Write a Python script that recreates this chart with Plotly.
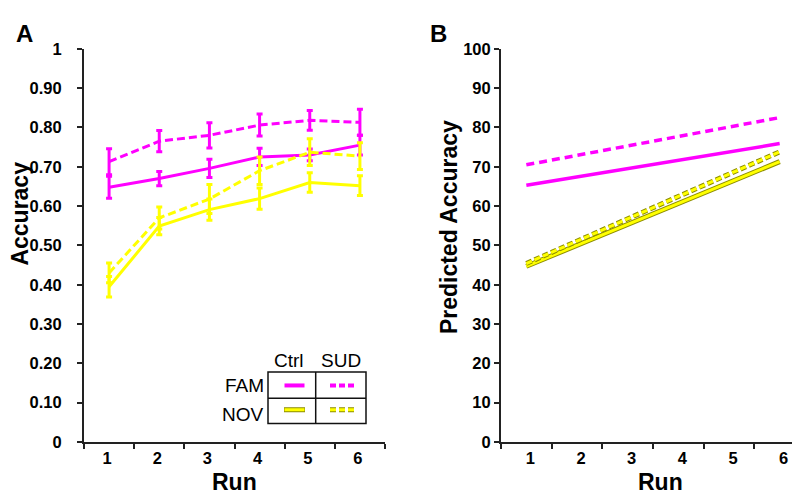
import plotly.graph_objects as go

# ---------------- data ----------------
runs = ["1", "2", "3", "4", "5", "6"]

fam_ctrl = [0.648, 0.670, 0.696, 0.725, 0.730, 0.755]
fam_ctrl_err = [0.028, 0.018, 0.023, 0.022, 0.015, 0.025]
fam_sud = [0.713, 0.765, 0.780, 0.806, 0.818, 0.813]
fam_sud_err = [0.033, 0.027, 0.032, 0.028, 0.025, 0.033]
nov_ctrl = [0.395, 0.549, 0.591, 0.619, 0.660, 0.652]
nov_ctrl_err = [0.026, 0.022, 0.027, 0.027, 0.025, 0.025]
nov_sud = [0.430, 0.570, 0.618, 0.690, 0.737, 0.727]
nov_sud_err = [0.025, 0.028, 0.037, 0.035, 0.034, 0.034]

pred_runs = ["1", "6"]
pred_fam_ctrl = [65.3, 75.9]
pred_fam_sud = [70.5, 82.5]
pred_nov_ctrl = [44.7, 71.3]
pred_nov_sud = [45.4, 73.8]

acc_ticks = [0, 0.1, 0.2, 0.3, 0.4, 0.5, 0.6, 0.7, 0.8, 0.9, 1.0]
acc_ticktext = ["0", "0.10", "0.20", "0.30", "0.40", "0.50", "0.60", "0.70", "0.80", "0.90", "1"]

MAG = "#ff00ff"
YEL = "#ffff00"
OLIVE = "#8c8c00"
FONT = "Arial, Liberation Sans, sans-serif"
W, H = 800, 497


def px(x):
    return x / W


def py(y):
    return 1 - y / H


fig = go.Figure()


def acc_trace(y, err, color, dash):
    fig.add_trace(go.Scatter(
        x=runs, y=y, mode="lines", xaxis="x", yaxis="y",
        line=dict(color=color, width=3, dash=dash),
        error_y=dict(type="data", array=err, visible=True, color=color,
                     thickness=3, width=3),
        showlegend=False, hoverinfo="skip"))


acc_trace(fam_ctrl, fam_ctrl_err, MAG, "solid")
acc_trace(fam_sud, fam_sud_err, MAG, "8px,4px")
acc_trace(nov_ctrl, nov_ctrl_err, YEL, "solid")
acc_trace(nov_sud, nov_sud_err, YEL, "8px,4px")

# panel B
fig.add_trace(go.Scatter(x=pred_runs, y=pred_fam_ctrl, mode="lines", xaxis="x2", yaxis="y2",
                         line=dict(color=MAG, width=3.5), showlegend=False, hoverinfo="skip"))
fig.add_trace(go.Scatter(x=pred_runs, y=pred_fam_sud, mode="lines", xaxis="x2", yaxis="y2",
                         line=dict(color=MAG, width=3.5, dash="8px,5px"), showlegend=False, hoverinfo="skip"))
for yv, dash in [(pred_nov_ctrl, "solid"), (pred_nov_sud, "6px,3px")]:
    fig.add_trace(go.Scatter(x=pred_runs, y=yv, mode="lines", xaxis="x2", yaxis="y2",
                             line=dict(color=OLIVE, width=5, dash=dash), showlegend=False, hoverinfo="skip"))
    fig.add_trace(go.Scatter(x=pred_runs, y=yv, mode="lines", xaxis="x2", yaxis="y2",
                             line=dict(color=YEL, width=3, dash=dash), showlegend=False, hoverinfo="skip"))

axis_common = dict(showline=True, linecolor="#222", linewidth=2, ticks="outside",
                   ticklen=5, tickwidth=2, tickcolor="#222", showgrid=False, zeroline=False,
                   tickfont=dict(family=FONT, size=16.5, color="black", weight="bold"))

fig.update_layout(
    width=W, height=H, margin=dict(l=0, r=0, t=0, b=0),
    paper_bgcolor="white", plot_bgcolor="white",
    xaxis=dict(domain=[px(76), px(377)], anchor="y", type="category",
               categoryorder="array", categoryarray=runs, tickson="boundaries",
               range=[-0.5, 5.5], ticklabelshift=-2, **axis_common),
    yaxis=dict(domain=[py(441), py(33)], anchor="x", range=[0, 1],
               tickvals=acc_ticks, ticktext=acc_ticktext, ticklabelstandoff=12, **axis_common),
    xaxis2=dict(domain=[px(493), px(797)], anchor="y2", type="category",
                categoryorder="array", categoryarray=runs, tickson="boundaries",
                range=[-0.5, 5.5], ticklabelshift=4, **axis_common),
    yaxis2=dict(domain=[py(441), py(33)], anchor="x2", range=[0, 100],
                tickvals=list(range(0, 101, 10)), **axis_common),
)

ann = []


def text(x, y, t, size, bold=True, angle=0, xanchor="center"):
    ann.append(dict(x=px(x), y=py(y), xref="paper", yref="paper", text=t, showarrow=False,
                    textangle=angle, xanchor=xanchor, yanchor="middle",
                    font=dict(family=FONT, size=size, color="black",
                              weight="bold" if bold else "normal")))


text(16.5, 17, "A", 24)
text(430.5, 17, "B", 24)
text(12, 204, "Accuracy", 23, angle=-90)
text(441, 218, "Predicted Accuracy", 23, angle=-90)
text(226.5, 482, "Run", 23)
text(652.5, 482, "Run", 23)
# legend table text
text(281, 356, "Ctrl", 19, bold=False)
text(332.5, 356, "SUD", 19, bold=False)
text(257.5, 382.5, "FAM", 19, bold=False, xanchor="right")
text(257.5, 412, "NOV", 19, bold=False, xanchor="right")
fig.update_layout(annotations=ann)

shapes = []
blk = dict(color="#111", width=1.5)
shapes.append(dict(type="rect", xref="paper", yref="paper", x0=px(260), x1=px(358),
                   y0=py(421.7), y1=py(368.3), line=blk))
shapes.append(dict(type="line", xref="paper", yref="paper", x0=px(307.7), x1=px(307.7),
                   y0=py(421.7), y1=py(368.3), line=blk))
shapes.append(dict(type="line", xref="paper", yref="paper", x0=px(260), x1=px(358),
                   y0=py(395.7), y1=py(395.7), line=blk))
# legend samples
shapes.append(dict(type="line", xref="paper", yref="paper", x0=px(276.5), x1=px(296.5),
                   y0=py(382.3), y1=py(382.3), line=dict(color=MAG, width=4)))
shapes.append(dict(type="line", xref="paper", yref="paper", x0=px(322), x1=px(347),
                   y0=py(382.3), y1=py(382.3), line=dict(color=MAG, width=4, dash="6px,3px")))
shapes.append(dict(type="line", xref="paper", yref="paper", x0=px(276), x1=px(297),
                   y0=py(407.5), y1=py(407.5), line=dict(color=OLIVE, width=5)))
shapes.append(dict(type="line", xref="paper", yref="paper", x0=px(276.5), x1=px(296.5),
                   y0=py(407.5), y1=py(407.5), line=dict(color=YEL, width=3)))
shapes.append(dict(type="line", xref="paper", yref="paper", x0=px(322), x1=px(347),
                   y0=py(407.5), y1=py(407.5), line=dict(color=OLIVE, width=5, dash="6px,3px")))
shapes.append(dict(type="line", xref="paper", yref="paper", x0=px(322), x1=px(347),
                   y0=py(407.5), y1=py(407.5), line=dict(color=YEL, width=3, dash="6px,3px")))
fig.update_layout(shapes=shapes)

fig.write_html("out.html")
